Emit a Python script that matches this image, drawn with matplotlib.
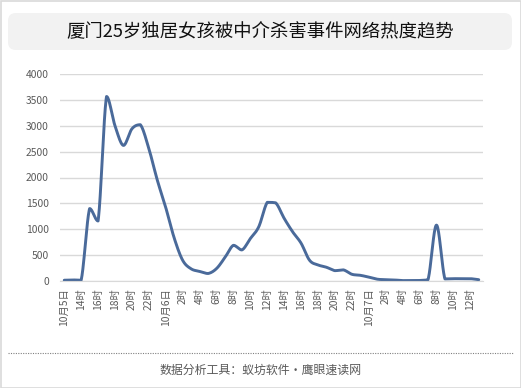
import matplotlib
matplotlib.use("Agg")
import matplotlib.pyplot as plt
import numpy as np
from matplotlib.patches import FancyBboxPatch, Rectangle
from matplotlib.lines import Line2D

plt.rcParams['font.family'] = ['Noto Sans CJK SC', 'DejaVu Sans']

title = "厦门25岁独居女孩被中介杀害事件网络热度趋势"
footer = "数据分析工具：蚁坊软件・鹰眼速读网"

# hourly data from 10月5日 12时 to 10月7日 13时
hours = list(range(50))
values = [15, 20, 15, 1400, 1160, 3565, 3000, 2620, 2940, 3020,
          2560, 1950, 1420, 830, 400, 235, 185, 145, 240, 455,
          690, 600, 820, 1050, 1520, 1510, 1210, 950, 730, 400,
          310, 265, 200, 215, 130, 110, 75, 35, 25, 20,
          8, 8, 10, 25, 1080, 40, 45, 45, 45, 25]
tick_labels = ["10月5日", "14时", "16时", "18时", "20时", "22时",
               "10月6日", "2时", "4时", "6时", "8时", "10时", "12时",
               "14时", "16时", "18时", "20时", "22时",
               "10月7日", "2时", "4时", "6时", "8时", "10时", "12时"]
yticks = [0, 500, 1000, 1500, 2000, 2500, 3000, 3500, 4000]


def smooth(x, y, n=20):
    x = np.asarray(x, float)
    y = np.asarray(y, float)
    px = np.concatenate([[x[0]], x, [x[-1]]])
    py = np.concatenate([[y[0]], y, [y[-1]]])
    ox, oy = [], []
    t = np.linspace(0, 1, n, endpoint=False)
    for i in range(1, len(px) - 2):
        p0, p1, p2, p3 = (np.array([px[j], py[j]]) for j in (i - 1, i, i + 1, i + 2))
        c1 = p1 + (p2 - p0) / 6
        c2 = p2 - (p3 - p1) / 6
        lo, hi = min(p1[1], p2[1]), max(p1[1], p2[1])
        c1[1] = np.clip(c1[1], lo, hi)
        c2[1] = np.clip(c2[1], lo, hi)
        for tt in t:
            b = ((1 - tt) ** 3) * p1 + 3 * ((1 - tt) ** 2) * tt * c1 + 3 * (1 - tt) * tt ** 2 * c2 + tt ** 3 * p2
            ox.append(b[0]); oy.append(b[1])
    ox.append(x[-1]); oy.append(y[-1])
    return np.array(ox), np.array(oy)


fig = plt.figure(figsize=(5.21, 3.88), dpi=100)
W, H = 521, 388

# outer border
fig.patches.append(Rectangle((0.5 / W, 0.5 / H), 1 - 1.0 / W, 1 - 1.0 / H, transform=fig.transFigure,
                             fill=False, edgecolor='#d9d9d9', linewidth=1.2))
# title box
fig.patches.append(FancyBboxPatch((8 / W, 1 - 50 / H), 504 / W, 37 / H,
                                  boxstyle="round,pad=0,rounding_size=0.015",
                                  transform=fig.transFigure, facecolor='#f2f2f2',
                                  edgecolor='none', mutation_aspect=W / H))
fig.text(260.5 / W, 1 - 31.5 / H, title, ha='center', va='center', fontsize=13.2, color='#111111')

# dotted line and footer
fig.add_artist(Line2D([8 / W, 513 / W], [1 - 352.5 / H, 1 - 352.5 / H], transform=fig.transFigure,
                      color='#808080', linewidth=0.8, linestyle=(0, (1, 1.2))))
fig.text(260.5 / W, 1 - 370 / H, footer, ha='center', va='center', fontsize=8.6, color='#595959')

ax = fig.add_axes([60 / W, 1 - 281 / H, 423 / W, 207 / H])
sx, sy = smooth(hours, values)
ax.plot(sx, sy, color='#4a6a9a', linewidth=2.1, solid_capstyle='round', solid_joinstyle='round')
ax.set_xlim(-0.5, 49.5)
ax.set_ylim(0, 4000)
ax.set_yticks(yticks)
ax.set_yticklabels([str(v) for v in yticks])
ax.set_xticks(hours[::2])
ax.set_xticklabels(tick_labels, rotation=90, va='top', ha='center')
ax.tick_params(axis='both', length=0, labelsize=7.4, colors='#595959')
ax.tick_params(axis='y', pad=8)
ax.tick_params(axis='x', pad=5)
for s in ['left', 'right', 'top']:
    ax.spines[s].set_visible(False)
ax.spines['bottom'].set_color('#d9d9d9')
ax.grid(axis='y', color='#d9d9d9', linewidth=1)
ax.set_axisbelow(True)

fig.savefig('out.png', dpi=100)
